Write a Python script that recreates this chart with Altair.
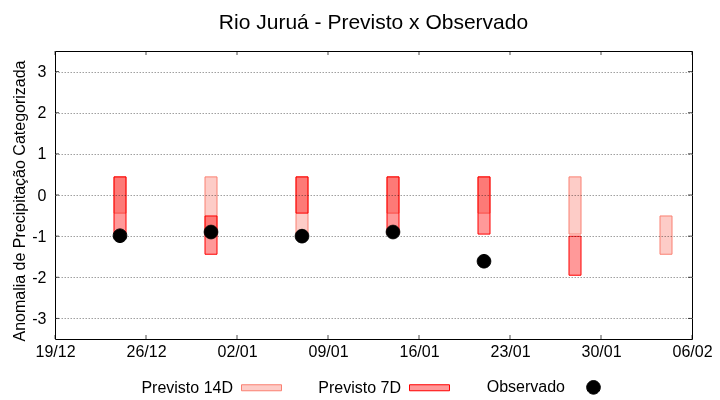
import altair as alt
import pandas as pd

# ---- data ----
S14 = "Previsto 14D"
S7 = "Previsto 7D"
SO = "Observado"

dates_14d = ["2023-12-24", "2023-12-31", "2024-01-07", "2024-01-14",
             "2024-01-21", "2024-01-28", "2024-02-04"]
hi_14d = [0.44, 0.44, 0.44, 0.44, 0.44, 0.44, -0.51]
lo_14d = [-0.44, -0.95, -0.95, -0.44, -0.44, -0.95, -1.44]

dates_7d = ["2023-12-24", "2023-12-31", "2024-01-07", "2024-01-14",
            "2024-01-21", "2024-01-28"]
hi_7d = [0.44, -0.51, 0.44, 0.44, 0.44, -1.0]
lo_7d = [-0.95, -1.44, -0.44, -0.95, -0.95, -1.95]

dates_obs = ["2023-12-24", "2023-12-31", "2024-01-07", "2024-01-14", "2024-01-21"]
val_obs = [-0.99, -0.90, -1.0, -0.90, -1.61]

x_tick_dates = ["2023-12-19", "2023-12-26", "2024-01-02", "2024-01-09",
                "2024-01-16", "2024-01-23", "2024-01-30", "2024-02-06"]
y_tick_values = [-3, -2, -1, 0, 1, 2, 3]

# ---- tables ----
bars_df = pd.concat([
    pd.DataFrame({"date": pd.to_datetime(dates_14d), "hi": hi_14d, "lo": lo_14d, "series": S14}),
    pd.DataFrame({"date": pd.to_datetime(dates_7d), "hi": hi_7d, "lo": lo_7d, "series": S7}),
], ignore_index=True)
obs_df = pd.DataFrame({"date": pd.to_datetime(dates_obs), "hi": val_obs, "series": SO})
xt_df = pd.DataFrame({"date": pd.to_datetime(x_tick_dates)})
yt_df = pd.DataFrame({"hi": y_tick_values})

FONT = "Liberation Sans"
W, H = 637, 288
YTITLE = "Anomalia de Precipitação Categorizada"

xdt = [pd.Timestamp(d) for d in x_tick_dates]
xscale = alt.Scale(domain=[alt.DateTime(year=xdt[0].year, month=xdt[0].month, date=xdt[0].day),
                           alt.DateTime(year=xdt[-1].year, month=xdt[-1].month, date=xdt[-1].day)],
                   padding=0)
yscale = alt.Scale(domain=[-3.5, 3.5], nice=False, zero=False, padding=0)

xaxis = alt.Axis(values=[alt.DateTime(year=d.year, month=d.month, date=d.day) for d in xdt],
                 format="%d/%m", grid=False, domain=False, ticks=False,
                 labelFontSize=16, labelFont=FONT, labelColor="black", labelPadding=4,
                 labelFlush=False, labelOverlap=False, labelBound=False)
yaxis = alt.Axis(values=y_tick_values, grid=True, gridDash=[1.5, 1.5], gridColor="#a0a0a0",
                 gridWidth=1, domain=False, ticks=False,
                 labelFontSize=16, labelFont=FONT, labelColor="black", labelPadding=9,
                 labelExpr="'' + datum.value",
                 titleFontSize=16, titleFont=FONT, titleFontWeight="normal",
                 titleColor="black", titlePadding=4, titleY=149.5)

X = alt.X("date:T", scale=xscale, axis=xaxis, title=None)
Y = alt.Y("hi:Q", scale=yscale, axis=yaxis, title=YTITLE)

domain = [S14, S7, SO]
rect_path = "M-1,-0.15L1,-0.15L1,0.15L-1,0.15Z"
circ_path = "M-0.34,0A0.34,0.34,0,1,0,0.34,0A0.34,0.34,0,1,0,-0.34,0Z"
cscale = alt.Scale(domain=domain, range=["#fdccc7", "#ff9999", "#000000"])
sscale = alt.Scale(domain=domain, range=["#fa8072", "#ff0000", "#000000"])
shscale = alt.Scale(domain=domain, range=[rect_path, rect_path, circ_path])

leg = alt.Legend(orient="none", legendX=186, legendY=315.5, direction="horizontal",
                 labelAlign="right", labelOffset={"expr": "-49"}, symbolSize=1600,
                 symbolStrokeWidth=1, labelFontSize=16, labelFont=FONT,
                 labelColor="black", columnPadding=34, symbolOpacity=1)

bars = alt.Chart(bars_df).mark_bar(width=12, strokeWidth=1, blend="multiply").encode(
    x=X, y=Y, y2="lo:Q",
    color=alt.Color("series:N", scale=cscale, legend=leg, title=None),
    stroke=alt.Stroke("series:N", scale=sscale, legend=leg, title=None),
)

pts = alt.Chart(obs_df).mark_point(filled=True, size=1600, opacity=1, strokeWidth=1).encode(
    x=X, y=Y,
    color=alt.Color("series:N", scale=cscale, legend=leg, title=None),
    stroke=alt.Stroke("series:N", scale=sscale, legend=leg, title=None),
    shape=alt.Shape("series:N", scale=shscale, legend=leg, title=None),
)

tick_x_bottom = alt.Chart(xt_df).mark_tick(orient="vertical", size=4, thickness=1, color="black").encode(
    x=X, y=alt.value(H - 2))
tick_x_top = alt.Chart(xt_df).mark_tick(orient="vertical", size=4, thickness=1, color="black").encode(
    x=X, y=alt.value(2))
tick_y_left = alt.Chart(yt_df).mark_tick(orient="horizontal", size=4, thickness=1, color="black").encode(
    y=Y, x=alt.value(2))
tick_y_right = alt.Chart(yt_df).mark_tick(orient="horizontal", size=4, thickness=1, color="black").encode(
    y=Y, x=alt.value(W - 2))

chart = alt.layer(bars, pts, tick_x_bottom, tick_x_top, tick_y_left, tick_y_right).properties(
    width=W, height=H,
    title=alt.TitleParams("Rio Juruá - Previsto x Observado", fontSize=21, font=FONT,
                          fontWeight="normal", color="black", anchor="middle", offset=18),
    autosize=alt.AutoSizeParams(type="none"),
    padding={"left": 47, "top": 43, "right": 20, "bottom": 61},
).configure_view(stroke="black", strokeWidth=1)

chart.save("out.html", embed_options={"renderer": "svg", "actions": False})
